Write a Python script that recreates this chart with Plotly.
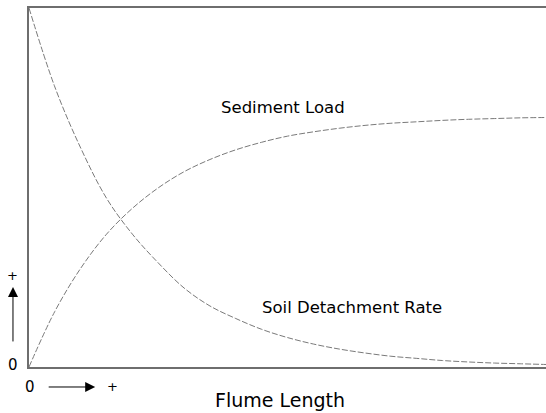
import plotly.graph_objects as go

# Flume length positions (arbitrary units, 0..10)
flume_length = [0, 0.5, 1, 1.5, 2, 2.5, 3, 3.5, 4, 4.5, 5, 5.5, 6, 6.5, 7, 7.5, 8, 8.5, 9, 9.5, 10]
# Soil detachment rate (relative)
detachment_rate = [1.00, 0.78, 0.61, 0.47, 0.37, 0.29, 0.22, 0.17, 0.135, 0.105, 0.082,
                   0.064, 0.05, 0.039, 0.03, 0.024, 0.018, 0.014, 0.011, 0.009, 0.007]
# Sediment load (relative)
sediment_load = [0.0, 0.155, 0.275, 0.37, 0.442, 0.499, 0.544, 0.578, 0.605, 0.626, 0.643,
                 0.655, 0.665, 0.673, 0.679, 0.683, 0.687, 0.69, 0.692, 0.694, 0.695]

curve_labels = ["Sediment Load", "Soil Detachment Rate"]
x_title = "Flume Length"

line_style = dict(color="#7a7a7a", width=1, dash="6px,2px", shape="spline")

fig = go.Figure()
fig.add_trace(go.Scatter(x=flume_length, y=detachment_rate, mode="lines",
                         line=line_style, name=curve_labels[1], showlegend=False,
                         hoverinfo="skip"))
fig.add_trace(go.Scatter(x=flume_length, y=sediment_load, mode="lines",
                         line=line_style, name=curve_labels[0], showlegend=False,
                         hoverinfo="skip"))

font = dict(family="DejaVu Sans", color="black")
anch = dict(xanchor="center", yanchor="middle")

annotations = [
    dict(x=4.913, y=0.724, xref="x", yref="y", text=curve_labels[0], showarrow=False,
         font=dict(size=16.5, **font), **anch),
    dict(x=6.248, y=0.166, xref="x", yref="y", text=curve_labels[1], showarrow=False,
         font=dict(size=16.5, **font), **anch),
    dict(x=0.4855, y=-0.092, xref="paper", yref="paper", text=x_title, showarrow=False,
         font=dict(size=19, **font), **anch),
    # y-axis indicators
    dict(x=-0.031, y=0.0056, xref="paper", yref="paper", text="0", showarrow=False,
         font=dict(size=15, **font), **anch),
    dict(x=-0.031, y=0.256, xref="paper", yref="paper", text="+", showarrow=False,
         font=dict(size=13, **font), **anch),
    dict(x=-0.031, y=0.223, xref="paper", yref="paper", text="", showarrow=True,
         ax=0, ay=56, axref="pixel", ayref="pixel", arrowhead=2, arrowsize=2,
         arrowwidth=1, arrowcolor="black"),
    # x-axis indicators
    dict(x=0.002, y=-0.0557, xref="paper", yref="paper", text="0", showarrow=False,
         font=dict(size=15, **font), **anch),
    dict(x=0.162, y=-0.0557, xref="paper", yref="paper", text="+", showarrow=False,
         font=dict(size=13, **font), **anch),
    dict(x=0.128, y=-0.0557, xref="paper", yref="paper", text="", showarrow=True,
         ax=-48, ay=0, axref="pixel", ayref="pixel", arrowhead=2, arrowsize=2,
         arrowwidth=1, arrowcolor="black"),
]

fig.update_layout(
    width=546, height=413,
    margin=dict(l=29, r=0, t=8, b=46),
    paper_bgcolor="white", plot_bgcolor="white",
    annotations=annotations,
    hovermode=False,
    xaxis=dict(range=[0, 10], showgrid=False, zeroline=False, showticklabels=False,
               ticks="", showline=True, mirror=True, linecolor="#6e6e6e", linewidth=2),
    yaxis=dict(range=[0, 1], showgrid=False, zeroline=False, showticklabels=False,
               ticks="", showline=True, mirror=False, linecolor="#6e6e6e", linewidth=2),
)

fig.write_html(
    "out.html",
    config={"displayModeBar": False},
    post_script="document.body.style.margin='0';document.body.style.overflow='hidden';",
)
